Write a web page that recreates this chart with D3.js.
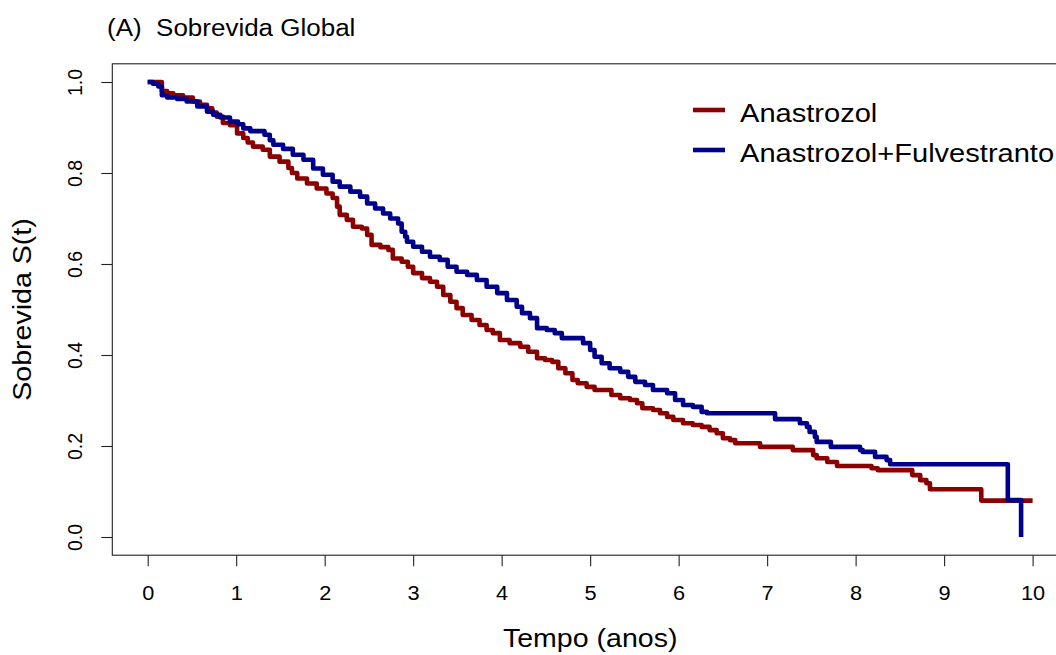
<!DOCTYPE html>
<html>
<head>
<meta charset="utf-8">
<script src="https://cdn.jsdelivr.net/npm/d3@7"></script>
<style>
  html, body { margin: 0; padding: 0; background: #fff; }
  svg { display: block; }
  text { font-family: "Liberation Sans", Arial, sans-serif; fill: #000; }
</style>
</head>
<body>
<svg id="chart" width="1056" height="655"></svg>
<script>
// ---------------- data ----------------
const seriesNames = ["Anastrozol", "Anastrozol+Fulvestranto"];
const seriesColors = ["#8B0000", "#00008B"];

const anaTimes = [0,0.16,0.22,0.29,0.40,0.51,0.59,0.67,0.73,0.78,0.85,0.93,1.01,1.08,1.13,1.19,1.30,1.38,1.49,1.59,1.63,1.69,1.80,1.91,2.02,2.09,2.14,2.17,2.25,2.32,2.42,2.48,2.53,2.63,2.72,2.77,2.87,2.94,3.00,3.10,3.19,3.27,3.34,3.42,3.49,3.56,3.66,3.75,3.83,3.90,3.98,4.09,4.21,4.30,4.40,4.49,4.57,4.64,4.72,4.80,4.86,4.96,5.05,5.24,5.34,5.45,5.53,5.59,5.71,5.79,5.87,5.94,6.05,6.16,6.26,6.35,6.43,6.50,6.58,6.64,6.92,7.29,7.52,7.56,7.68,7.79,8.18,8.25,8.64,8.73,8.80,8.84,9.42,10.0];
const anaSurv = [1.0,0.98,0.975,0.971,0.966,0.957,0.95,0.942,0.933,0.924,0.91,0.905,0.887,0.877,0.867,0.858,0.851,0.836,0.825,0.811,0.80,0.788,0.777,0.766,0.755,0.745,0.726,0.708,0.697,0.682,0.678,0.664,0.642,0.637,0.631,0.612,0.605,0.594,0.58,0.569,0.561,0.55,0.532,0.517,0.503,0.488,0.477,0.466,0.455,0.448,0.433,0.426,0.418,0.407,0.393,0.389,0.385,0.371,0.36,0.345,0.338,0.33,0.323,0.312,0.305,0.301,0.294,0.283,0.279,0.272,0.264,0.257,0.25,0.246,0.242,0.235,0.228,0.217,0.213,0.206,0.198,0.191,0.18,0.173,0.165,0.156,0.151,0.147,0.136,0.125,0.118,0.105,0.08,0.08];

const fulTimes = [0,0.06,0.12,0.16,0.22,0.33,0.44,0.56,0.67,0.74,0.82,0.93,1.02,1.08,1.16,1.32,1.38,1.42,1.53,1.64,1.76,1.87,1.98,2.09,2.17,2.29,2.40,2.48,2.57,2.66,2.74,2.83,2.87,2.91,2.93,3.00,3.10,3.19,3.30,3.39,3.49,3.61,3.72,3.83,3.95,4.06,4.17,4.23,4.32,4.40,4.51,4.60,4.68,4.92,5.00,5.05,5.13,5.22,5.34,5.43,5.51,5.62,5.71,5.87,5.96,6.05,6.16,6.26,6.32,7.09,7.37,7.45,7.48,7.54,7.56,7.72,8.05,8.08,8.22,8.35,8.39,9.72,9.87];
const fulSurv = [1.0,0.996,0.99,0.971,0.966,0.963,0.957,0.946,0.935,0.928,0.922,0.913,0.907,0.898,0.892,0.884,0.872,0.862,0.853,0.84,0.829,0.81,0.796,0.781,0.77,0.759,0.748,0.733,0.722,0.711,0.70,0.689,0.671,0.66,0.649,0.638,0.627,0.616,0.609,0.594,0.583,0.576,0.565,0.55,0.536,0.521,0.506,0.492,0.481,0.459,0.455,0.448,0.437,0.426,0.411,0.396,0.382,0.371,0.363,0.352,0.341,0.334,0.323,0.316,0.301,0.29,0.286,0.275,0.272,0.259,0.25,0.242,0.231,0.22,0.209,0.198,0.191,0.187,0.176,0.169,0.16,0.081,0.0];

const xTicks = [0,1,2,3,4,5,6,7,8,9,10];
const yTicks = [0.0,0.2,0.4,0.6,0.8,1.0];

const titleText = "(A)  Sobrevida Global";
const xTitle = "Tempo (anos)";
const yTitle = "Sobrevida S(t)";

// ---------------- layout ----------------
const svg = d3.select("#chart");
const plot = { left: 112.3, right: 1068, top: 63.8, bottom: 555.2 };

const x = d3.scaleLinear().domain([-0.4, 10.4]).range([plot.left, plot.right]);
const y = d3.scaleLinear().domain([-0.04, 1.04]).range([plot.bottom, plot.top]);

// Axes (R style: ticks outside, detached box)
const xAxis = d3.axisBottom(x).tickValues(xTicks).tickSize(11).tickPadding(0).tickFormat(d3.format("d"));
const gx = svg.append("g").attr("transform", `translate(0,${plot.bottom})`).call(xAxis);
gx.select(".domain").remove();
gx.selectAll(".tick line").attr("stroke", "#222").attr("stroke-width", 1.1);
gx.selectAll(".tick text").remove();
gx.selectAll(".tick").append("text")
  .attr("text-anchor", "middle")
  .attr("transform", "translate(0,45) scale(1.06,1)")
  .style("font-size", "20.5px")
  .text(d => d3.format("d")(d));

const yAxis = d3.axisLeft(y).tickValues(yTicks).tickSize(11).tickPadding(0);
const gy = svg.append("g").attr("transform", `translate(${plot.left},0)`).call(yAxis);
gy.select(".domain").remove();
gy.selectAll(".tick line").attr("stroke", "#222").attr("stroke-width", 1.1);
gy.selectAll(".tick text").remove();
gy.selectAll(".tick").append("text")
  .attr("text-anchor", "middle")
  .attr("transform", `translate(${82 - plot.left},0) rotate(-90)`)
  .style("font-size", "19.5px")
  .text(d => d3.format(".1f")(d));

// Box
svg.append("rect")
  .attr("x", plot.left).attr("y", plot.top)
  .attr("width", plot.right - plot.left).attr("height", plot.bottom - plot.top)
  .attr("fill", "none").attr("stroke", "#222").attr("stroke-width", 1.1);

// Curves
const line = d3.line()
  .x(d => x(d[0]))
  .y(d => y(d[1]))
  .curve(d3.curveStepAfter);

const series = [
  { name: seriesNames[0], color: seriesColors[0], pts: d3.zip(anaTimes, anaSurv) },
  { name: seriesNames[1], color: seriesColors[1], pts: d3.zip(fulTimes, fulSurv) }
];

svg.append("g").selectAll("path").data(series).join("path")
  .attr("d", d => line(d.pts))
  .attr("fill", "none")
  .attr("stroke", d => d.color)
  .attr("stroke-width", 4.6)
  .attr("stroke-linejoin", "round")
  .attr("stroke-linecap", "butt");

// Legend
const legend = svg.append("g");
series.forEach((s, i) => {
  const ly = 110 + i * 40;
  legend.append("line")
    .attr("x1", 693).attr("x2", 725).attr("y1", ly).attr("y2", ly)
    .attr("stroke", s.color).attr("stroke-width", 4.6);
  legend.append("text")
    .attr("transform", `translate(740,${ly + 11.5}) scale(1.14,1)`)
    .style("font-size", "25.5px")
    .text(s.name);
});

// Title
svg.append("text")
  .attr("transform", "translate(107,36) scale(1.13,1)")
  .style("font-size", "23px")
  .style("white-space", "pre")
  .attr("xml:space", "preserve")
  .text(titleText);

// Axis titles
svg.append("text")
  .attr("text-anchor", "middle")
  .attr("transform", `translate(${(plot.left + plot.right) / 2},647) scale(1.12,1)`)
  .style("font-size", "25.5px")
  .text(xTitle);

svg.append("text")
  .attr("text-anchor", "middle")
  .attr("transform", `translate(31,${(plot.top + plot.bottom) / 2}) rotate(-90) scale(1.12,1)`)
  .style("font-size", "25.5px")
  .text(yTitle);
</script>
</body>
</html>
